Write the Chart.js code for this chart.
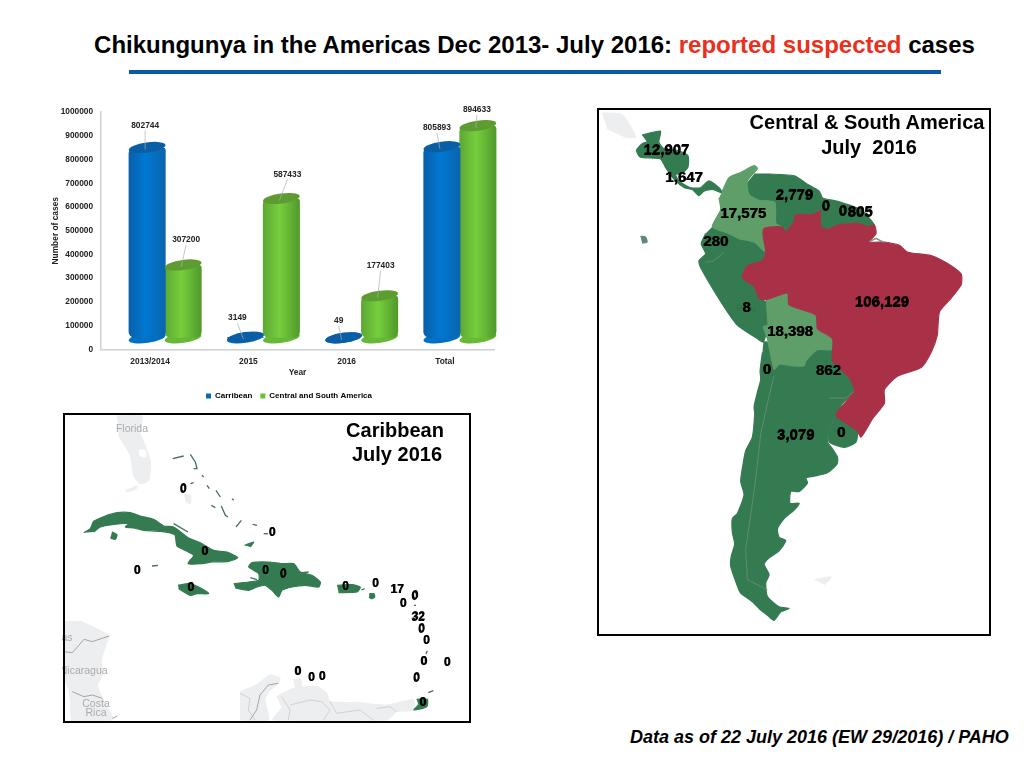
<!DOCTYPE html>
<html>
<head>
<meta charset="utf-8">
<title>Chikungunya in the Americas</title>
<script src="https://cdn.jsdelivr.net/npm/chart.js@4/dist/chart.umd.min.js"></script>
<style>
body { margin:0; background:#fff; font-family:"Liberation Sans",Arial,sans-serif; width:1024px; height:768px; overflow:hidden; position:relative; }
canvas, .abs { position:absolute; }
#title { left:0; width:1069px; top:31px; text-align:center; font-size:24px; font-weight:bold; color:#000; white-space:nowrap; }
#title span { color:#e8301c; }
#rule { left:129px; top:70px; width:812px; height:4px; background:#0b5aa6; }
#foot { left:630px; top:727px; font-size:18px; font-weight:bold; font-style:italic; color:#000; white-space:nowrap; }
.box { border:2px solid #000; box-sizing:border-box; }
.cap { font-size:20px; font-weight:bold; color:#000; text-align:center; white-space:pre; line-height:32px; }
</style>
</head>
<body>
<div id="title" class="abs">Chikungunya in the Americas Dec 2013- July 2016: <span>reported suspected</span> cases</div>
<div id="rule" class="abs"></div>

<canvas id="bars" width="480" height="315" style="left:40px;top:95px"></canvas>
<canvas id="south" width="395" height="530" style="left:597px;top:108px"></canvas>
<canvas id="carib" width="410" height="312" style="left:62px;top:412px"></canvas>

<div class="abs box" style="left:597px;top:108px;width:394px;height:528px"></div>
<div class="abs box" style="left:63px;top:413px;width:408px;height:310px"></div>
<div class="abs cap" style="left:740px;top:106px;width:254px">Central &amp; South America</div>
<div class="abs cap" style="left:754px;top:131px;width:230px">July  2016</div>
<div class="abs cap" style="left:329px;top:414px;width:132px">Caribbean</div>
<div class="abs cap" style="left:331px;top:438px;width:132px">July 2016</div>
<div id="foot" class="abs">Data as of 22 July 2016 (EW 29/2016) / PAHO</div>

<script>
// bar chart values
var years = ["2013/2014", "2015", "2016", "Total"];
var caribbean = [802744, 3149, 49, 805893];
var centralSouth = [307200, 587433, 177403, 894633];
var seriesNames = ["Carribean", "Central and South America"];

// where each value label sits, relative to the top of its bar
var blueLabelShift = [[-2,-22], [-8,-19], [-5,-17], [-5,-19]];
var greenLabelShift = [[3,-25], [6,-24], [1,-30], [-1,-16]];

var DARK = "#357b51", LIGHT = "#5f9e68", RED = "#a93147", GREY = "#edeef0";

// map outlines, in the units of the map's own axes
var cubaGrey = [[15,15],[75,20],[115,85],[85,85],[30,60]];
var falkland = [[650,1390],[700,1382],[680,1405]];
var galapagos = [[130,378],[145,380],[150,395],[135,398]];
var centralAm = [[135,80],[190,68],[185,100],[200,120],[240,125],[272,140],[272,175],[250,195],[235,195],[245,215],[280,235],[310,235],[335,215],[365,235],[375,250],[345,240],[320,245],[305,258],[285,240],[262,235],[235,215],[205,175],[190,150],[130,145],[118,125],[135,105],[150,100]];
var colombia = [[375,245],[395,205],[430,190],[470,170],[480,178],[450,215],[455,255],[485,272],[532,278],[535,340],[552,350],[500,355],[497,375],[505,425],[470,395],[425,385],[395,370],[345,350],[370,300],[365,265]];
var guianas = [[470,195],[520,195],[590,200],[630,225],[665,245],[675,265],[720,275],[790,300],[830,345],[810,350],[780,340],[720,345],[690,358],[670,350],[668,300],[640,315],[595,315],[590,335],[565,365],[535,345],[532,278],[485,272],[455,255],[445,225]];
var brazil = [[668,300],[670,350],[690,358],[720,345],[780,340],[810,350],[830,345],[835,370],[815,395],[860,395],[905,405],[930,425],[1000,435],[1060,465],[1090,490],[1090,520],[1060,560],[1025,600],[1018,670],[1000,720],[970,765],[900,790],[860,830],[860,870],[825,915],[790,970],[778,950],[715,905],[770,835],[755,795],[705,745],[705,680],[660,650],[655,610],[575,580],[570,545],[505,565],[485,560],[470,525],[435,500],[450,465],[495,450],[505,425],[497,375],[500,355],[552,350],[565,365],[590,335],[595,315],[640,315]];
var peru = [[345,350],[425,385],[470,395],[505,425],[495,450],[450,465],[435,500],[470,525],[485,560],[510,575],[510,640],[498,690],[480,680],[420,640],[370,570],[310,470],[305,450],[325,430],[312,400],[325,370]];
var bolivia = [[505,565],[570,545],[575,580],[655,610],[660,650],[705,680],[705,712],[660,712],[625,745],[620,760],[585,760],[545,755],[530,770],[510,680],[498,645],[510,640]];
var southCone = [[498,690],[510,690],[530,770],[545,755],[620,760],[625,745],[660,712],[705,712],[705,745],[755,795],[770,835],[735,870],[715,905],[695,950],[690,985],[705,1005],[720,1030],[718,1050],[690,1075],[650,1085],[625,1090],[630,1105],[605,1130],[580,1130],[578,1165],[605,1165],[590,1185],[560,1210],[540,1240],[545,1265],[565,1275],[545,1305],[510,1330],[500,1345],[515,1375],[505,1400],[510,1440],[545,1470],[575,1475],[550,1485],[530,1510],[510,1495],[490,1480],[465,1455],[430,1430],[415,1395],[400,1350],[402,1320],[412,1285],[405,1250],[405,1210],[420,1195],[440,1140],[430,1100],[437,1050],[445,1010],[465,970],[472,900],[470,880],[482,830],[490,800],[488,775],[495,720]];
var uruguay = [[715,905],[778,950],[775,985],[740,1000],[695,985],[695,950]];
var chileBorder = [[530,790],[510,870],[490,960],[480,1050],[470,1130],[445,1300],[450,1390],[510,1420]];
var paraguayBorder = [[695,855],[745,855],[770,835]];
var ecuadorBorder = [[325,455],[350,450],[380,425]];
var amazonMouth = [[815,394],[835,384],[858,396]];

var southLabels = ["12,907","1,647","2,779","0","0","805","17,575","280","8","18,398","106,129","862","0","3,079","0"];
var southLabelAt = [[207,125],[260,207],[590,258],[684,290],[735,305],[787,308],[437,313],[355,395],[447,590],[577,660],[852,573],[692,775],[508,773],[594,965],[730,958]];
var southPlaces = ["Peru"];
var southPlaceAt = [[445,590]];

var florida = [[165,12],[240,12],[232,60],[245,90],[265,150],[260,205],[235,215],[215,190],[205,130],[170,70]];
var floridaLake = [[230,115],[250,115],[250,135],[232,130]];
var keys = [[190,237],[225,222],[222,230],[195,240]];
var andros = [[365,245],[385,250],[385,275],[372,270]];
var isthmus = [[6,629],[56,629],[101,649],[141,672],[131,699],[118,744],[121,789],[106,819],[121,859],[136,884],[151,924],[31,927],[26,884],[21,834],[6,799]];
var colombiaGrey = [[534,839],[584,819],[624,789],[654,799],[644,819],[619,839],[609,864],[619,924],[534,924]];
var venezuelaGrey = [[644,854],[694,829],[764,824],[794,844],[804,869],[884,872],[974,879],[1054,864],[1054,894],[1004,899],[974,924],[634,924],[659,889]];
var arubaGrey = [[694,804],[714,799],[719,824],[699,826]];
var darkBorders = [
  [[6,719],[31,722],[66,682],[91,689],[141,672]],
  [[31,839],[66,854],[91,849],[121,859]],
  [[151,919],[166,912]],
  [[649,814],[619,819],[594,849],[584,894],[564,924]]
];
var paleBorders = [
  [[659,854],[684,894],[679,924]],
  [[684,879],[744,864],[779,869],[804,894],[784,924]],
  [[804,869],[824,904],[894,894],[934,924]],
  [[944,889],[984,884],[1004,899]],
  [[534,844],[564,859],[559,894],[579,924]]
];
var cuba = [[65,362],[85,350],[95,328],[130,312],[165,302],[205,302],[235,312],[275,322],[305,342],[335,345],[380,378],[415,392],[455,415],[495,420],[527,437],[500,448],[450,450],[420,455],[378,455],[395,430],[375,418],[345,402],[338,368],[295,358],[245,355],[215,348],[190,345],[200,335],[150,338],[115,345],[95,360]];
var youth = [[150,360],[165,368],[160,382],[145,378]];
var jamaica = [[348,520],[380,515],[420,530],[440,545],[405,545],[385,550],[350,530]];
var hispaniola = [[515,515],[560,510],[590,505],[590,485],[560,465],[570,452],[620,450],[660,455],[695,455],[715,480],[750,490],[775,510],[770,525],[730,520],[690,525],[660,535],[650,555],[630,535],[610,520],[585,525],[560,535],[520,528]];
var puertoRico = [[825,520],[870,518],[895,525],[885,540],[830,542]];
var stCroix = [[922,545],[936,545],[938,556],[928,560],[921,555]];
var turks = [[548,400],[575,390],[565,405]];
var trinidad = [[1064,862],[1096,862],[1094,884],[1056,894],[1069,879]];
var islets = [
  [[332,140],[365,132]], [[385,127],[400,150],[405,170],[395,170]], [[385,215],[395,212]], [[420,190],[425,195]],
  [[435,220],[442,230]], [[462,235],[475,255]], [[510,260],[515,265]], [[448,280],[460,287]], [[478,282],[490,310],[498,315]],
  [[522,345],[538,325]], [[572,337],[585,340]], [[605,365],[618,365]], [[270,462],[288,460]], [[335,335],[378,360]],
  [[565,497],[585,503]], [[720,482],[740,480]], [[898,534],[908,530]], [[1056,580],[1062,580]], [[1099,842],[1114,836]], [[1092,726],[1096,716]]
];

var caribLabels = ["0","0","0","0","0","0","0","0","0","17","0","0","32","0","0","0","0","0","0","0","0","0"];
var caribLabelAt = [[363,232],[630,362],[428,420],[225,477],[610,477],[663,487],[386,528],[850,525],[940,516],[1005,533],[1058,553],[1023,576],[1068,616],[1078,652],[1093,687],[1085,750],[1155,752],[707,779],[748,797],[780,795],[1063,799],[1082,872]];
var caribPlaces = ["Florida","as","Nicaragua","Costa","Rica"];
var caribPlaceAt = [[210,52],[15,678],[65,777],[102,876],[102,904]];

function toXY(list) {
  return list.map(function(p){ return {x:p[0], y:p[1]}; });
}

function polygon(points, color) {
  return { data:toXY(points), showLine:true, fill:"shape", backgroundColor:color, borderColor:color, borderWidth:1.2, pointRadius:0, tension:0.2 };
}

function stroke(points, color, width) {
  return { data:toXY(points), showLine:true, fill:false, borderColor:color, borderWidth:width, pointRadius:0, tension:0 };
}

// writes the names stored on the marker datasets
var mapText = {
  id:"mapText",
  afterDatasetsDraw: function(chart) {
    var ctx = chart.ctx;
    chart.data.datasets.forEach(function(ds, i){
      if (!ds.texts) return;
      var meta = chart.getDatasetMeta(i);
      ctx.save();
      ctx.font = ds.textFont;
      ctx.fillStyle = ds.textColor;
      ctx.textAlign = "center";
      ctx.textBaseline = "middle";
      meta.data.forEach(function(pt, k){
        ctx.fillText(ds.texts[k], pt.x, pt.y);
        if (ds.heavy) ctx.fillText(ds.texts[k], pt.x + 0.6, pt.y - 0.4);
      });
      ctx.restore();
    });
  }
};

function textSet(at, texts, font, color, heavy) {
  return { data:toXY(at), pointRadius:0, showLine:false, texts:texts, textFont:font, textColor:color, heavy:heavy };
}

function makeMap(id, maxX, maxY, sets) {
  sets.forEach(function(s, i){ s.order = -i; });
  return new Chart(document.getElementById(id), {
    type:"scatter",
    data:{ datasets:sets },
    plugins:[mapText],
    options:{
      responsive:false, animation:false, events:[],
      layout:{ padding:0 },
      plugins:{ legend:{display:false}, tooltip:{enabled:false} },
      scales:{
        x:{ type:"linear", min:0, max:maxX, display:false },
        y:{ type:"linear", min:0, max:maxY, reverse:true, display:false }
      }
    }
  });
}

makeMap("south", 1182, 1562, [
  polygon(cubaGrey, GREY), polygon(falkland, GREY),
  polygon(galapagos, "#5f8b72"),
  polygon(centralAm, DARK), polygon(guianas, DARK), polygon(peru, DARK), polygon(southCone, DARK), polygon(uruguay, DARK),
  polygon(colombia, LIGHT), polygon(bolivia, LIGHT), polygon(brazil, RED),
  stroke(chileBorder, "#5f8b72", 1), stroke(paraguayBorder, "#5f8b72", 1), stroke(ecuadorBorder, "#5f8b72", 1),
  stroke(amazonMouth, "#7d8f86", 1.5),
  textSet(southPlaceAt, southPlaces, "9px 'Liberation Sans'", "#2f6d48", false),
  textSet(southLabelAt, southLabels, "bold 15px 'Liberation Sans'", "#000", true)
]);

var caribSets = [
  polygon(florida, GREY), polygon(floridaLake, "#fff"), polygon(keys, GREY), polygon(andros, GREY),
  polygon(isthmus, GREY), polygon(colombiaGrey, GREY), polygon(venezuelaGrey, GREY), polygon(arubaGrey, GREY)
];
paleBorders.forEach(function(b){ caribSets.push(stroke(b, "#cfd2d4", 1)); });
darkBorders.forEach(function(b){ caribSets.push(stroke(b, "#a2a5a7", 1)); });
[cuba, youth, jamaica, hispaniola, puertoRico, stCroix, turks, trinidad].forEach(function(p){ caribSets.push(polygon(p, DARK)); });
islets.forEach(function(b){ caribSets.push(stroke(b, "#47705a", 1.3)); });
caribSets.push(textSet(caribPlaceAt, caribPlaces, "10.5px 'Liberation Sans'", "#a9abad", false));
caribSets.push(textSet(caribLabelAt, caribLabels, "bold 12px 'Liberation Sans'", "#000", true));
makeMap("carib", 1230, 936, caribSets);

// cylinder look for the bars; the whole group sits a little up and right of the axes
var SHIFT_X = 15, SHIFT_Y = -11.5;

function bodyColor(stops, side) {
  return function(c) {
    var xs = c.chart.scales.x;
    if (!xs) return stops[1];
    var mid = xs.getPixelForValue(c.dataIndex) + side * 18;
    var g = c.chart.ctx.createLinearGradient(mid - 19, 0, mid + 19, 0);
    g.addColorStop(0, stops[0]);
    g.addColorStop(0.45, stops[1]);
    g.addColorStop(1, stops[2]);
    return g;
  };
}

var blueStops = ["#0a5ea8", "#0078d2", "#0a64ad"];
var greenStops = ["#5ca534", "#76cf3c", "#4f972b"];
var tops = ["#0a5ea3", "#5e9b30"];

function lid(ctx, el, y, color) {
  ctx.beginPath();
  ctx.ellipse(el.x, y, el.width / 2, 5, -0.14, 0, Math.PI * 2);
  ctx.fillStyle = color;
  ctx.fill();
}

var cylinders = {
  id:"cylinders",
  afterLayout: function(chart) {
    // legend sits under the plot's own middle, lower than the default box
    var lg = chart.legend;
    lg.left += 22; lg.right += 22;
    lg.top += 6; lg.bottom += 6;
  },
  beforeDatasetsDraw: function(chart) {
    var ctx = chart.ctx;
    ctx.save();
    ctx.translate(SHIFT_X, SHIFT_Y);
    chart.data.datasets.forEach(function(ds, i){
      chart.getDatasetMeta(i).data.forEach(function(el){
        lid(ctx, el, el.base, i === 0 ? "#0070c4" : "#66b836");
      });
    });
  },
  afterDatasetsDraw: function(chart) {
    var ctx = chart.ctx;
    chart.data.datasets.forEach(function(ds, i){
      chart.getDatasetMeta(i).data.forEach(function(el){ lid(ctx, el, el.y, tops[i]); });
    });
    ctx.font = "bold 8.4px 'Liberation Sans'";
    ctx.textAlign = "center";
    ctx.textBaseline = "middle";
    chart.data.datasets.forEach(function(ds, i){
      var shifts = i === 0 ? blueLabelShift : greenLabelShift;
      chart.getDatasetMeta(i).data.forEach(function(el, k){
        var lx = el.x + shifts[k][0], ly = el.y + shifts[k][1];
        ctx.beginPath();
        ctx.moveTo(lx, ly + 5);
        ctx.lineTo(el.x - 2, el.y + 2);
        ctx.strokeStyle = "#a8adb0";
        ctx.lineWidth = 0.7;
        ctx.stroke();
        ctx.fillStyle = "#222";
        ctx.fillText(String(ds.data[k]), lx, ly);
      });
    });
    ctx.restore();
  }
};

var corner = { topLeft:6, topRight:3, bottomLeft:6, bottomRight:6 };

new Chart(document.getElementById("bars"), {
  type:"bar",
  data:{
    labels:years,
    datasets:[
      { label:seriesNames[0], data:caribbean, backgroundColor:bodyColor(blueStops, -1), clip:false, borderRadius:corner, borderSkipped:false },
      { label:seriesNames[1], data:centralSouth, backgroundColor:bodyColor(greenStops, 1), clip:false, borderRadius:corner, borderSkipped:false }
    ]
  },
  plugins:[cylinders],
  options:{
    responsive:false, animation:false, events:[],
    categoryPercentage:0.7324, barPercentage:1.03,
    layout:{ padding:{ top:17.2, right:26, left:0, bottom:6 } },
    plugins:{
      tooltip:{enabled:false},
      legend:{
        position:"bottom",
        labels:{
          boxWidth:5, boxHeight:5, padding:8, color:"#222",
          font:{ size:8, weight:"bold", family:"'Liberation Sans'" },
          generateLabels:function(){
            return seriesNames.map(function(n, i){
              return { text:n, fillStyle:i === 0 ? "#0a6ab0" : "#6cc036", strokeStyle:"transparent", lineWidth:0, datasetIndex:i };
            });
          }
        }
      }
    },
    scales:{
      x:{
        grid:{ display:false, drawTicks:false },
        border:{ color:"#cfd2d4", width:1.5 },
        ticks:{ color:"#222", padding:7, font:{ size:8.4, weight:"bold", family:"'Liberation Sans'" } },
        title:{ display:true, text:"Year", color:"#222", padding:{top:3,bottom:0}, font:{ size:8.4, weight:"bold", family:"'Liberation Sans'" } },
        afterFit:function(s){ s.height = s.chart.height - s.chart.legend.height - 6 - 254.3; }
      },
      y:{
        min:0, max:1000000,
        grid:{ display:false, drawTicks:false },
        border:{ color:"#cfd2d4", width:1.5 },
        ticks:{ stepSize:100000, color:"#222", padding:8, font:{ size:8.3, weight:"bold", family:"'Liberation Sans'" }, callback:function(v){ return String(v); } },
        title:{ display:true, text:"Number of cases", color:"#222", padding:{top:11,bottom:0}, font:{ size:8.4, weight:"bold", family:"'Liberation Sans'" } },
        afterFit:function(s){ s.width = 61; }
      }
    }
  }
});
</script>
</body>
</html>
